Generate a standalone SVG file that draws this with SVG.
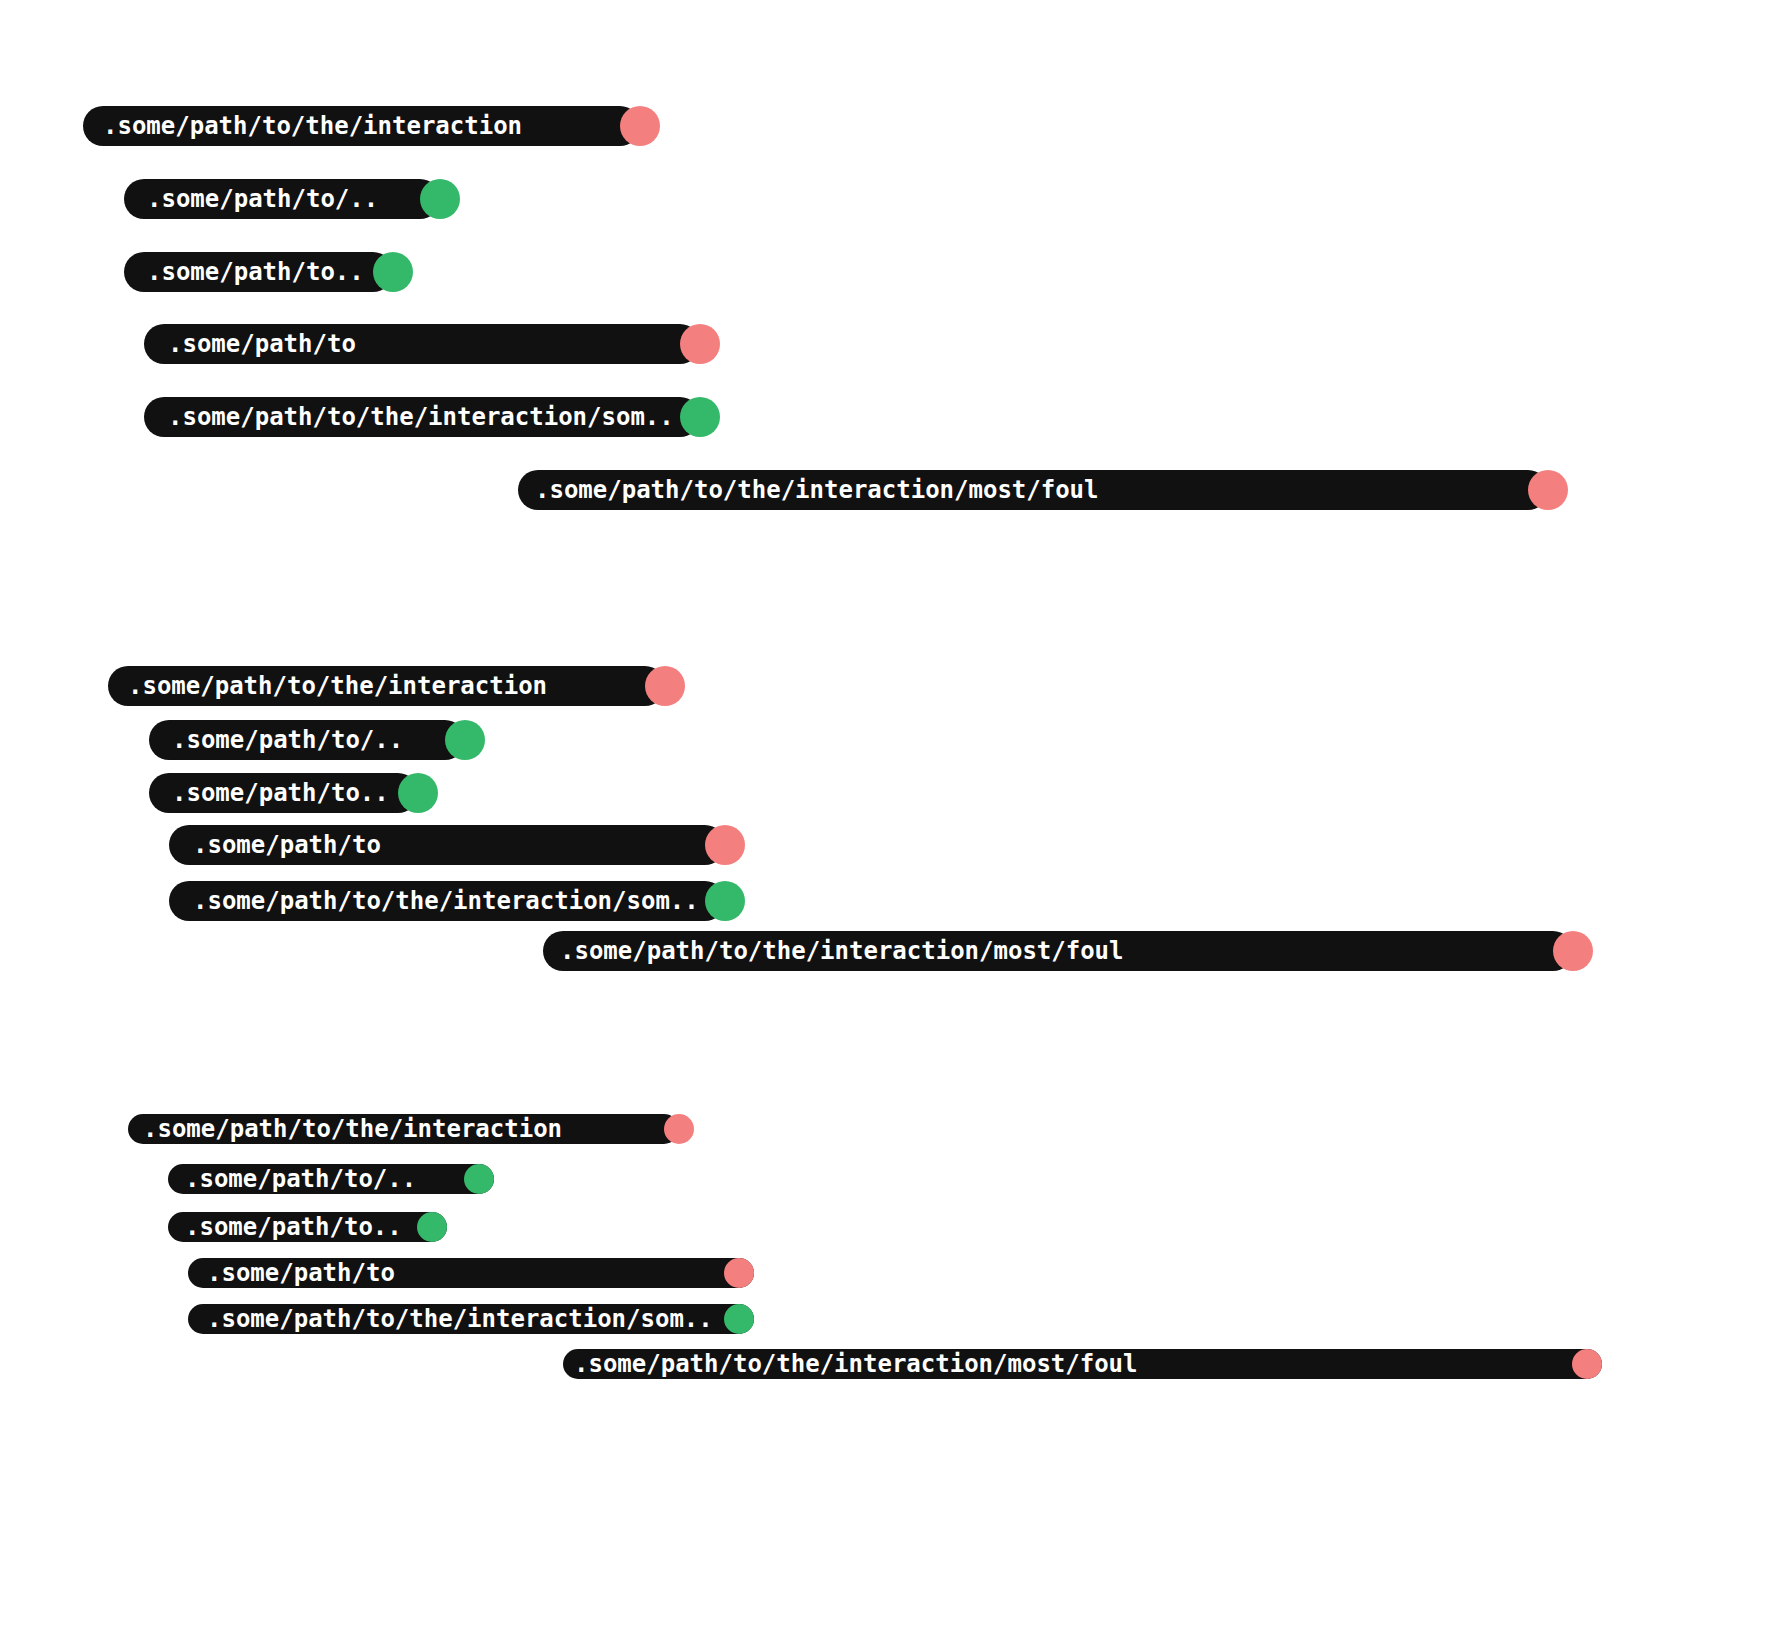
<svg xmlns="http://www.w3.org/2000/svg" width="1784" height="1637" viewBox="0 0 1784 1637">
<style>
.bar{fill:#111111}
.t{font-family:"DejaVu Sans Mono","Liberation Mono",monospace;font-weight:bold;font-size:24px;fill:#ffffff}
.r{fill:#F47F7F}
.g{fill:#34B96A}
</style>
<rect width="1784" height="1637" fill="#ffffff"/>
<g id="group1">
<g id="n1"><rect class="bar" x="83" y="106" width="557" height="40" rx="20"/><circle class="r" cx="640" cy="126" r="20"/><text class="t" x="103" y="134">.some/path/to/the/interaction</text></g>
<g id="n2"><rect class="bar" x="124" y="179" width="316" height="40" rx="20"/><circle class="g" cx="440" cy="199" r="20"/><text class="t" x="147" y="207">.some/path/to/..</text></g>
<g id="n3"><rect class="bar" x="124" y="252" width="269" height="40" rx="20"/><circle class="g" cx="393" cy="272" r="20"/><text class="t" x="147" y="280">.some/path/to..</text></g>
<g id="n4"><rect class="bar" x="144" y="324" width="556" height="40" rx="20"/><circle class="r" cx="700" cy="344" r="20"/><text class="t" x="168" y="352">.some/path/to</text></g>
<g id="n5"><rect class="bar" x="144" y="397" width="556" height="40" rx="20"/><circle class="g" cx="700" cy="417" r="20"/><text class="t" x="168" y="425">.some/path/to/the/interaction/som..</text></g>
<g id="n6"><rect class="bar" x="518" y="470" width="1030" height="40" rx="20"/><circle class="r" cx="1548" cy="490" r="20"/><text class="t" x="535" y="498">.some/path/to/the/interaction/most/foul</text></g>
</g>
<g id="group2">
<g id="m1"><rect class="bar" x="108" y="666" width="557" height="40" rx="20"/><circle class="r" cx="665" cy="686" r="20"/><text class="t" x="128" y="694">.some/path/to/the/interaction</text></g>
<g id="m2"><rect class="bar" x="149" y="720" width="316" height="40" rx="20"/><circle class="g" cx="465" cy="740" r="20"/><text class="t" x="172" y="748">.some/path/to/..</text></g>
<g id="m3"><rect class="bar" x="149" y="773" width="269" height="40" rx="20"/><circle class="g" cx="418" cy="793" r="20"/><text class="t" x="172" y="801">.some/path/to..</text></g>
<g id="m4"><rect class="bar" x="169" y="825" width="556" height="40" rx="20"/><circle class="r" cx="725" cy="845" r="20"/><text class="t" x="193" y="853">.some/path/to</text></g>
<g id="m5"><rect class="bar" x="169" y="881" width="556" height="40" rx="20"/><circle class="g" cx="725" cy="901" r="20"/><text class="t" x="193" y="909">.some/path/to/the/interaction/som..</text></g>
<g id="m6"><rect class="bar" x="543" y="931" width="1030" height="40" rx="20"/><circle class="r" cx="1573" cy="951" r="20"/><text class="t" x="560" y="959">.some/path/to/the/interaction/most/foul</text></g>
</g>
<g id="group3">
<g id="k1"><rect class="bar" x="128" y="1114" width="551" height="30" rx="15"/><circle class="r" cx="679" cy="1129" r="15"/><text class="t" x="143" y="1137">.some/path/to/the/interaction</text></g>
<g id="k2"><rect class="bar" x="168" y="1164" width="326" height="30" rx="15"/><circle class="g" cx="479" cy="1179" r="15"/><text class="t" x="185" y="1187">.some/path/to/..</text></g>
<g id="k3"><rect class="bar" x="168" y="1212" width="279" height="30" rx="15"/><circle class="g" cx="432" cy="1227" r="15"/><text class="t" x="185" y="1235">.some/path/to..</text></g>
<g id="k4"><rect class="bar" x="188" y="1258" width="566" height="30" rx="15"/><circle class="r" cx="739" cy="1273" r="15"/><text class="t" x="207" y="1281">.some/path/to</text></g>
<g id="k5"><rect class="bar" x="188" y="1304" width="566" height="30" rx="15"/><circle class="g" cx="739" cy="1319" r="15"/><text class="t" x="207" y="1327">.some/path/to/the/interaction/som..</text></g>
<g id="k6"><rect class="bar" x="563" y="1349" width="1039" height="30" rx="15"/><circle class="r" cx="1587" cy="1364" r="15"/><text class="t" x="574" y="1372">.some/path/to/the/interaction/most/foul</text></g>
</g>
<g id="connectors"/>
</svg>
